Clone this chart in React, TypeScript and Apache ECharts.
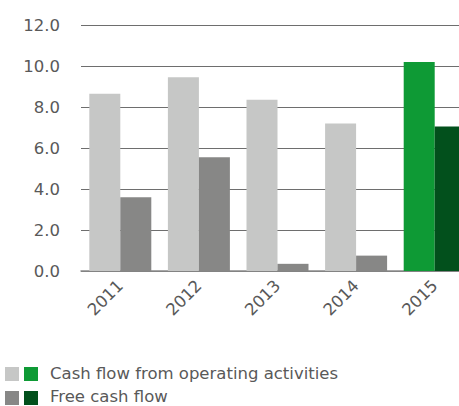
import React, { useEffect, useRef } from "react";
import * as echarts from "echarts";

const categories = ["2011", "2012", "2013", "2014", "2015"];
const operatingCashFlow = [8.65, 9.45, 8.35, 7.2, 10.2];
const freeCashFlow = [3.6, 5.55, 0.35, 0.75, 7.05];
const legendLabels = ["Cash flow from operating activities", "Free cash flow"];

const LIGHT = "#c6c7c6";
const GREEN = "#0e9a35";
const DARK = "#878786";
const DARK_GREEN = "#02501c";
const TEXT = "#595959";
const FONT = "'DejaVu Sans', Verdana, sans-serif";
const FS = 16.5;

export default function App() {
  const ref = useRef<HTMLDivElement>(null);
  useEffect(() => {
    const chart = echarts.init(ref.current!, null, { renderer: "svg" });
    const last = categories.length - 1;
    chart.setOption({
      animation: false,
      grid: {
        left: 81,
        width: 393,
        top: 25,
        bottom: 135,
        containLabel: false,
        outerBoundsMode: "none",
      },
      xAxis: {
        type: "category",
        data: categories,
        axisLine: { show: true, lineStyle: { color: "#8a8a8a", width: 1.5 } },
        axisTick: { show: false },
        axisLabel: {
          rotate: 45,
          color: TEXT,
          fontFamily: FONT,
          fontSize: FS,
          margin: 12,
        },
        splitLine: { show: false },
      },
      yAxis: {
        type: "value",
        min: 0,
        max: 12,
        interval: 2,
        axisLine: { show: false },
        axisTick: { show: false },
        axisLabel: {
          color: TEXT,
          fontFamily: FONT,
          fontSize: FS,
          margin: 21,
          formatter: (v: number) => v.toFixed(1),
        },
        splitLine: { show: true, lineStyle: { color: "#6e6e6e", width: 1.2 } },
      },
      series: [
        {
          name: legendLabels[0],
          type: "bar",
          barWidth: 31,
          barGap: "0%",
          data: operatingCashFlow.map((v, i) => ({
            value: v,
            itemStyle: { color: i === last ? GREEN : LIGHT },
          })),
        },
        {
          name: legendLabels[1],
          type: "bar",
          barWidth: 31,
          barGap: "0%",
          data: freeCashFlow.map((v, i) => ({
            value: v,
            itemStyle: { color: i === last ? DARK_GREEN : DARK },
          })),
        },
      ],
      graphic: [
        { type: "rect", left: 5, top: 367, shape: { width: 14, height: 14 }, style: { fill: LIGHT } },
        { type: "rect", left: 24, top: 367, shape: { width: 14, height: 14 }, style: { fill: GREEN } },
        {
          type: "text",
          left: 50,
          top: 365,
          style: { text: legendLabels[0], fill: TEXT, font: `${FS}px ${FONT}` },
        },
        { type: "rect", left: 5, top: 391, shape: { width: 14, height: 14 }, style: { fill: DARK } },
        { type: "rect", left: 24, top: 391, shape: { width: 14, height: 14 }, style: { fill: DARK_GREEN } },
        {
          type: "text",
          left: 50,
          top: 388,
          style: { text: legendLabels[1], fill: TEXT, font: `${FS}px ${FONT}` },
        },
      ],
    });
    return () => chart.dispose();
  }, []);
  return (
    <div
      ref={ref}
      style={{ position: "absolute", left: 0, top: 0, width: 459, height: 406 }}
    />
  );
}
